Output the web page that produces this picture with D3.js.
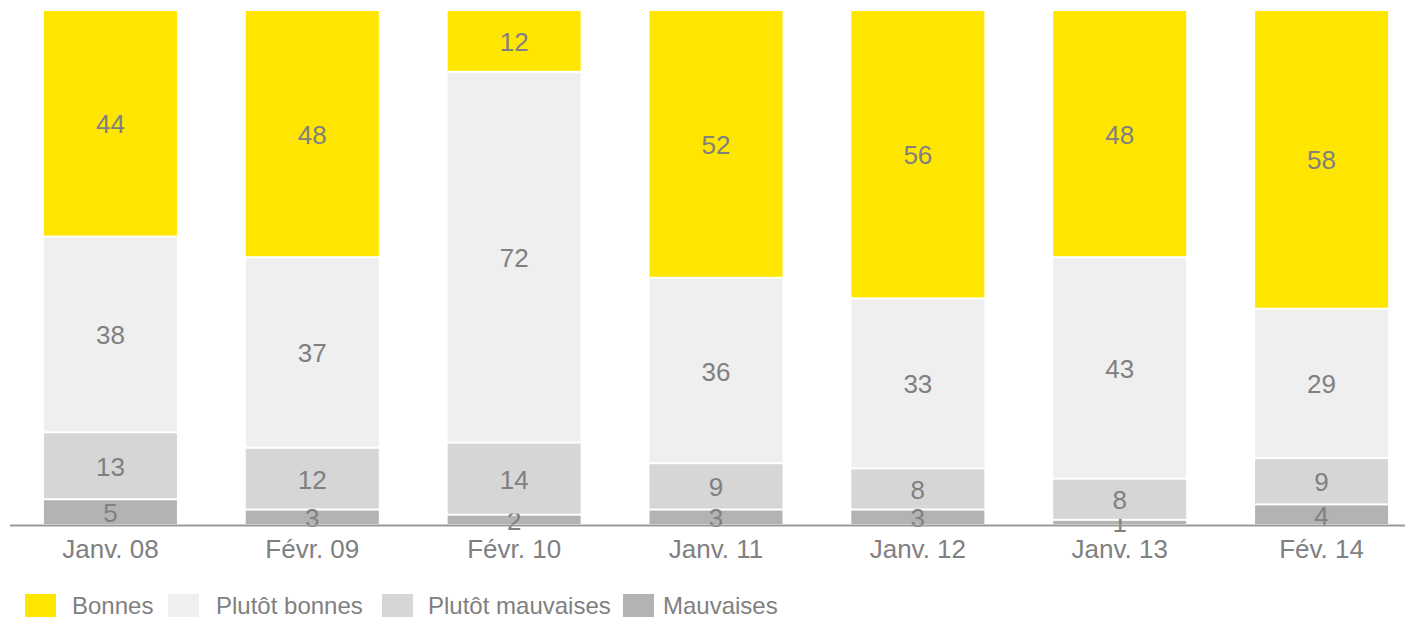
<!DOCTYPE html>
<html>
<head>
<meta charset="utf-8">
<script src="https://cdn.jsdelivr.net/npm/d3@7/dist/d3.min.js"></script>
<style>
  body { margin: 0; background: #fff; }
  text { font-family: "Liberation Sans", Arial, sans-serif; fill: #808080; }
</style>
</head>
<body>
<div id="chart"></div>
<script>
// data
var categories = ["Janv. 08", "Févr. 09", "Févr. 10", "Janv. 11", "Janv. 12", "Janv. 13", "Fév. 14"];
var seriesNames = ["Mauvaises", "Plutôt mauvaises", "Plutôt bonnes", "Bonnes"];
var mauvaises = [5, 3, 2, 3, 3, 1, 4];
var plutotMauvaises = [13, 12, 14, 9, 8, 8, 9];
var plutotBonnes = [38, 37, 72, 36, 33, 43, 29];
var bonnes = [44, 48, 12, 52, 56, 48, 58];
var legendOrder = ["Bonnes", "Plutôt bonnes", "Plutôt mauvaises", "Mauvaises"];

var colors = {
  "Bonnes": "#FFE600",
  "Plutôt bonnes": "#EFEFEF",
  "Plutôt mauvaises": "#D6D6D6",
  "Mauvaises": "#B3B3B3"
};

var width = 1405, height = 617;
var svg = d3.select("#chart").append("svg")
  .attr("width", width).attr("height", height);

var rows = categories.map(function(c, i) {
  return {
    cat: c,
    "Mauvaises": mauvaises[i],
    "Plutôt mauvaises": plutotMauvaises[i],
    "Plutôt bonnes": plutotBonnes[i],
    "Bonnes": bonnes[i]
  };
});

var stack = d3.stack().keys(seriesNames)(rows);

var x = d3.scaleBand().domain(categories)
  .range([10, 1422]).paddingInner(0.341).paddingOuter(0.168);
var y = d3.scaleLinear().domain([0, 100]).range([525, 10]);

var layers = svg.selectAll("g.layer").data(stack).enter().append("g")
  .attr("class", "layer")
  .attr("fill", function(d) { return colors[d.key]; });

layers.selectAll("rect").data(function(d) { return d; }).enter().append("rect")
  .attr("x", function(d) { return x(d.data.cat); })
  .attr("width", x.bandwidth())
  .attr("y", function(d) { return y(d[1]) + 1; })
  .attr("height", function(d) { return Math.max(0, y(d[0]) - y(d[1]) - 2); });

// axis line
svg.append("line")
  .attr("x1", 10).attr("x2", width)
  .attr("y1", 525.5).attr("y2", 525.5)
  .attr("stroke", "#999").attr("stroke-width", 2);

// value labels
layers.selectAll("text.val").data(function(d) { return d; }).enter().append("text")
  .attr("class", "val")
  .attr("x", function(d) { return x(d.data.cat) + x.bandwidth() / 2; })
  .attr("y", function(d) { return (y(d[0]) + y(d[1])) / 2 + 10; })
  .attr("text-anchor", "middle")
  .style("font-size", "26px")
  .text(function(d) { return d[1] - d[0]; });

// category labels
svg.selectAll("text.cat").data(categories).enter().append("text")
  .attr("class", "cat")
  .attr("x", function(d) { return x(d) + x.bandwidth() / 2; })
  .attr("y", 558)
  .attr("text-anchor", "middle")
  .style("font-size", "26px")
  .text(function(d) { return d; });

// legend
var legendBoxX = [25, 168, 382, 623];
var legendTextX = [72, 216, 428, 663];
var legend = svg.selectAll("g.leg").data(legendOrder).enter().append("g")
  .attr("class", "leg");
legend.append("rect")
  .attr("x", function(d, i) { return legendBoxX[i]; })
  .attr("y", 594)
  .attr("width", 31).attr("height", 23)
  .attr("fill", function(d) { return colors[d]; });
legend.append("text")
  .attr("x", function(d, i) { return legendTextX[i]; })
  .attr("y", 614)
  .style("font-size", "24px")
  .text(function(d) { return d; });
</script>
</body>
</html>
